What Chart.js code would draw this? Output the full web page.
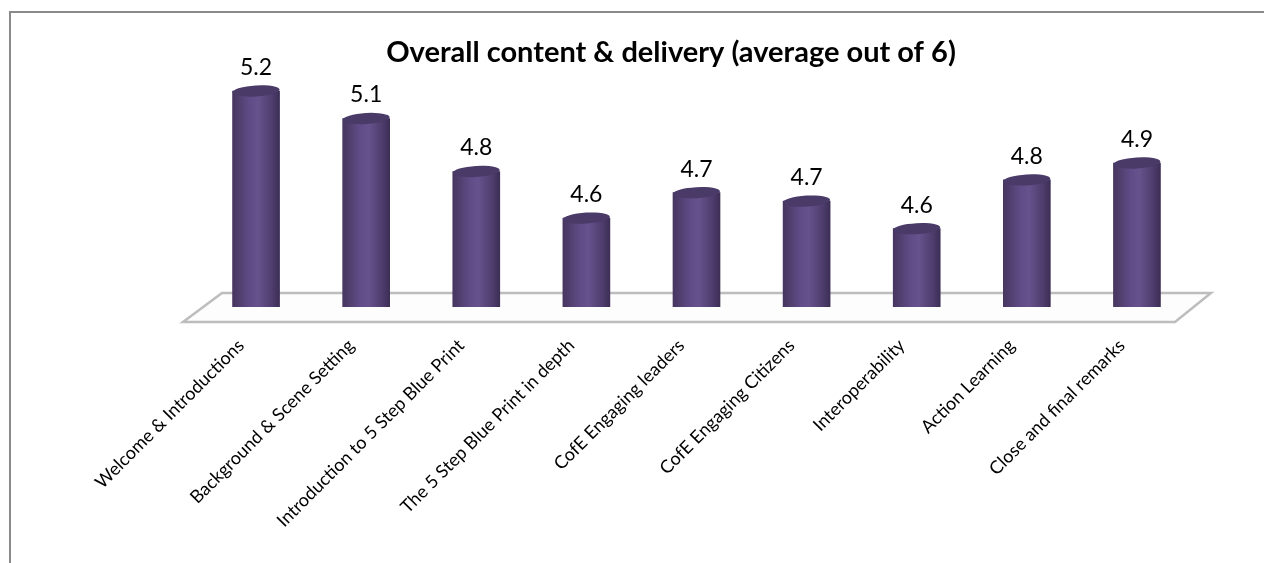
<!DOCTYPE html>
<html lang="en">
<head>
    <meta charset="UTF-8">
    <title>Overall content & delivery</title>
    <script src="https://cdn.jsdelivr.net/npm/chart.js"></script>
    <style>
        body, html {
            margin: 0;
            width: 1264px;
            height: 563px;
            overflow: hidden;
            background: #ffffff;
            font-family: 'Lato', sans-serif;
        }
        .frame {
            position: absolute;
            left: 9px;
            top: 11px;
            right: -10px;
            bottom: -10px;
            border-left: 2px solid #8a8a8a;
            border-top: 2px solid #8a8a8a;
        }
        .chart-box {
            position: absolute;
            left: 0;
            top: 0;
            width: 1264px;
            height: 563px;
        }
    </style>
</head>
<body>
    <div class="frame"></div>
    <div class="chart-box">
        <canvas id="scoreChart" width="1264" height="563"></canvas>
    </div>

    <script>
        const sessions = [
            'Welcome & Introductions',
            'Background & Scene Setting',
            'Introduction to 5 Step Blue Print',
            'The 5 Step Blue Print in depth',
            'CofE Engaging leaders',
            'CofE Engaging Citizens',
            'Interoperability',
            'Action Learning',
            'Close and final remarks'
        ];
        const averageScores = [5.22, 5.09, 4.84, 4.62, 4.74, 4.70, 4.57, 4.80, 4.88];
        const titleText = 'Overall content & delivery (average out of 6)';

        const capRadius = 5.5;

        function barGradient(ctx, x, half) {
            const g = ctx.createLinearGradient(x - half, 0, x + half, 0);
            g.addColorStop(0, '#46365f');
            g.addColorStop(0.35, '#5f4b85');
            g.addColorStop(0.55, '#66528c');
            g.addColorStop(0.85, '#4d3c6c');
            g.addColorStop(1, '#3c2e55');
            return g;
        }

        // floor of the 3D plot
        const floorPlugin = {
            id: 'floor',
            beforeDatasetsDraw(chart) {
                const { ctx, chartArea } = chart;
                const L = chartArea.left, R = chartArea.right, B = chartArea.bottom;
                ctx.save();
                ctx.beginPath();
                ctx.moveTo(L - 18, B + 15);
                ctx.lineTo(L + 21, B - 14);
                ctx.lineTo(R + 19, B - 14);
                ctx.lineTo(R - 17, B + 15);
                ctx.closePath();
                ctx.fillStyle = '#fdfdfd';
                ctx.fill();
                ctx.lineWidth = 2.5;
                ctx.strokeStyle = '#bdbdbd';
                ctx.stroke();
                ctx.restore();
            }
        };

        // round caps + value labels
        const cylinderPlugin = {
            id: 'cylinder',
            afterDatasetsDraw(chart) {
                const { ctx } = chart;
                const meta = chart.getDatasetMeta(0);
                ctx.save();
                meta.data.forEach((bar, i) => {
                    const half = bar.width / 2;
                    // bottom
                    ctx.beginPath();
                    ctx.ellipse(bar.x, bar.base, half, capRadius, 0, 0, Math.PI);
                    ctx.fillStyle = barGradient(ctx, bar.x, half);
                    ctx.fill();
                    // top
                    ctx.beginPath();
                    ctx.ellipse(bar.x, bar.y, half, capRadius, -0.06, 0, Math.PI * 2);
                    ctx.fillStyle = '#4a3a68';
                    ctx.fill();

                    ctx.fillStyle = '#000';
                    ctx.font = '23px Lato';
                    ctx.textAlign = 'center';
                    ctx.textBaseline = 'bottom';
                    ctx.fillText(averageScores[i].toFixed(1), bar.x, bar.y - 12);
                });
                ctx.restore();
            }
        };

        const chartCtx = document.getElementById('scoreChart').getContext('2d');
        new Chart(chartCtx, {
            type: 'bar',
            data: {
                labels: sessions,
                datasets: [{
                    data: averageScores,
                    backgroundColor: (c) => {
                        const chart = c.chart;
                        if (!chart.chartArea) return '#5c4882';
                        const x = chart.scales.x.getPixelForValue(c.dataIndex);
                        return barGradient(chart.ctx, x, 23.5);
                    },
                    borderWidth: 0,
                    barThickness: 47
                }]
            },
            plugins: [floorPlugin, cylinderPlugin],
            options: {
                responsive: false,
                animation: false,
                layout: { padding: { left: 150, right: 72, top: 0, bottom: 0 } },
                plugins: {
                    legend: { display: false },
                    tooltip: { enabled: false },
                    title: {
                        display: true,
                        text: titleText,
                        color: '#000',
                        font: { family: 'Lato', size: 29, weight: 'bold' },
                        padding: { top: 35, bottom: 0 }
                    }
                },
                scales: {
                    x: {
                        grid: { display: false },
                        border: { display: false },
                        ticks: {
                            color: '#000',
                            font: { family: 'Lato', size: 18 },
                            minRotation: 45,
                            maxRotation: 45,
                            autoSkip: false,
                            padding: 20,
                            labelOffset: -15
                        },
                        afterFit(scale) { scale.height = 256; }
                    },
                    y: {
                        min: 4.2,
                        max: 5.32,
                        grid: { display: false },
                        border: { display: false },
                        ticks: { display: false },
                        afterFit(scale) { scale.width = 51; }
                    }
                }
            }
        });
    </script>
</body>
</html>
